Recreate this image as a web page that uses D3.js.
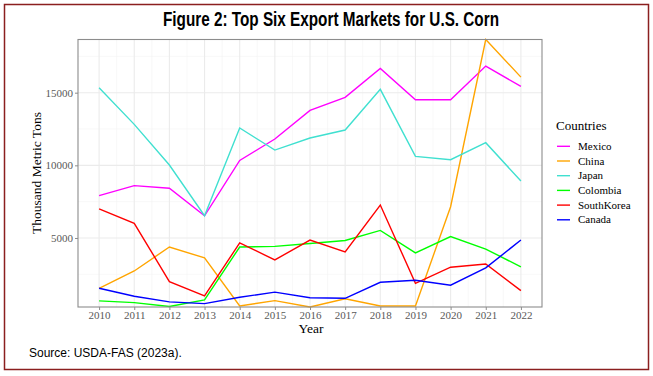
<!DOCTYPE html>
<html>
<head>
<meta charset="utf-8">
<script src="https://cdn.jsdelivr.net/npm/d3@7"></script>
<style>
  body { margin: 0; background: #fff; }
  svg { display: block; }
</style>
</head>
<body>
<svg id="chart" width="653" height="376"></svg>
<script>
// data (thousand metric tons)
var years = [2010, 2011, 2012, 2013, 2014, 2015, 2016, 2017, 2018, 2019, 2020, 2021, 2022]
var countries = ["Mexico", "China", "Japan", "Colombia", "SouthKorea", "Canada"]
var colors = ["#ff00ff", "#ffa500", "#40e0d0", "#00ff00", "#ff0000", "#0000ff"]

var mexico     = [7910, 8600, 8420, 6530, 10340, 11810, 13780, 14680, 16670, 14510, 14510, 16830, 15430]
var china      = [1540, 2730, 4380, 3630, 320, 690, 250, 820, 320, 320, 7150, 18660, 16070]
var japan      = [15340, 12820, 10020, 6530, 12570, 11050, 11880, 12430, 15230, 10620, 10390, 11560, 8920]
var colombia   = [670, 550, 290, 740, 4380, 4420, 4620, 4830, 5520, 3970, 5100, 4240, 3010]
var southKorea = [7000, 6010, 2000, 1010, 4660, 3490, 4860, 4040, 7270, 1880, 2990, 3210, 1380]
var canada     = [1540, 990, 600, 480, 920, 1270, 890, 850, 1950, 2090, 1750, 2940, 4860]

var yTicks = [5000, 10000, 15000]
var yMinor = [2500, 7500, 12500, 17500]

var series = [mexico, china, japan, colombia, southKorea, canada]

var svg = d3.select("#chart")

// outer frame
svg.append("rect")
    .attr("x", 4.5).attr("y", 4.5)
    .attr("width", 644).attr("height", 365)
    .attr("fill", "none")
    .attr("stroke", "#8b1f1f")
    .attr("stroke-width", 1.5)

svg.append("text")
    .attr("x", 331).attr("y", 26)
    .attr("text-anchor", "middle")
    .attr("textLength", 336)
    .attr("lengthAdjust", "spacingAndGlyphs")
    .style("font-family", "'Liberation Sans Narrow', 'Arial Narrow', 'Liberation Sans', sans-serif")
    .style("font-weight", "bold")
    .style("font-size", "19.5px")
    .text("Figure 2: Top Six Export Markets for U.S. Corn")

svg.append("text")
    .attr("x", 29).attr("y", 357)
    .style("font-family", "'Liberation Sans', Arial, sans-serif")
    .style("font-size", "12px")
    .text("Source: USDA-FAS (2023a).")

// panel
var pLeft = 78, pRight = 542, pTop = 39.5, pBottom = 307

var allVals = [].concat.apply([], series)
var x = d3.scaleLinear().domain([2009.4, 2022.6]).range([pLeft, pRight])
var y = d3.scaleLinear().domain(d3.extent(allVals)).range([pBottom, pTop])

var grid = svg.append("g")
var xMinor = years.slice(0, -1).map(function(d) { return d + 0.5 })

grid.selectAll("line.ymin").data(yMinor).enter().append("line")
    .attr("x1", pLeft).attr("x2", pRight)
    .attr("y1", function(d) { return y(d) }).attr("y2", function(d) { return y(d) })
    .attr("stroke", "#f4f4f4").attr("stroke-width", 0.6)
grid.selectAll("line.xmin").data(xMinor).enter().append("line")
    .attr("y1", pTop).attr("y2", pBottom)
    .attr("x1", function(d) { return x(d) }).attr("x2", function(d) { return x(d) })
    .attr("stroke", "#f4f4f4").attr("stroke-width", 0.6)
grid.selectAll("line.ymaj").data(yTicks).enter().append("line")
    .attr("x1", pLeft).attr("x2", pRight)
    .attr("y1", function(d) { return y(d) }).attr("y2", function(d) { return y(d) })
    .attr("stroke", "#ebebeb").attr("stroke-width", 1.1)
grid.selectAll("line.xmaj").data(years).enter().append("line")
    .attr("y1", pTop).attr("y2", pBottom)
    .attr("x1", function(d) { return x(d) }).attr("x2", function(d) { return x(d) })
    .attr("stroke", "#ebebeb").attr("stroke-width", 1.1)

// lines
var line = d3.line()
    .x(function(d, i) { return x(years[i]) })
    .y(function(d) { return y(d) })

svg.append("g").selectAll("path").data(series).enter().append("path")
    .attr("d", line)
    .attr("fill", "none")
    .attr("stroke", function(d, i) { return colors[i] })
    .attr("stroke-width", 1.4)

svg.append("rect")
    .attr("x", pLeft).attr("y", pTop)
    .attr("width", pRight - pLeft).attr("height", pBottom - pTop)
    .attr("fill", "none").attr("stroke", "#8c8c8c").attr("stroke-width", 1.1)

// axes
var tickFont = "'Liberation Serif', 'Times New Roman', serif"
var xAxis = svg.append("g")
    .attr("transform", "translate(0," + pBottom + ")")
    .call(d3.axisBottom(x).tickValues(years).tickFormat(d3.format("d")).tickSize(3).tickPadding(1))
var yAxis = svg.append("g")
    .attr("transform", "translate(" + pLeft + ",0)")
    .call(d3.axisLeft(y).tickValues(yTicks).tickFormat(d3.format("d")).tickSize(3).tickPadding(2))

;[xAxis, yAxis].forEach(function(a) {
    a.select(".domain").remove()
    a.selectAll("line").attr("stroke", "#8c8c8c")
    a.selectAll("text")
        .attr("fill", "#595959")
        .style("font-family", tickFont)
        .style("font-size", "11px")
})

svg.append("text")
    .attr("x", 311).attr("y", 332.5)
    .attr("text-anchor", "middle")
    .style("font-family", tickFont).style("font-size", "13.5px")
    .text("Year")

svg.append("text")
    .attr("transform", "translate(41,173) rotate(-90)")
    .attr("text-anchor", "middle")
    .style("font-family", tickFont).style("font-size", "13.5px")
    .text("Thousand Metric Tons")

// legend
var legend = svg.append("g")
legend.append("text")
    .attr("x", 556).attr("y", 130)
    .style("font-family", tickFont).style("font-size", "13px")
    .text("Countries")

var item = legend.selectAll("g.item").data(countries).enter().append("g")
    .attr("transform", function(d, i) { return "translate(0," + (146.3 + i * 14.7) + ")" })
item.append("line")
    .attr("x1", 557).attr("x2", 570)
    .attr("stroke", function(d, i) { return colors[i] })
    .attr("stroke-width", 1.4)
item.append("text")
    .attr("x", 578).attr("y", 3.5)
    .style("font-family", tickFont).style("font-size", "11px")
    .text(function(d) { return d })
</script>
</body>
</html>
